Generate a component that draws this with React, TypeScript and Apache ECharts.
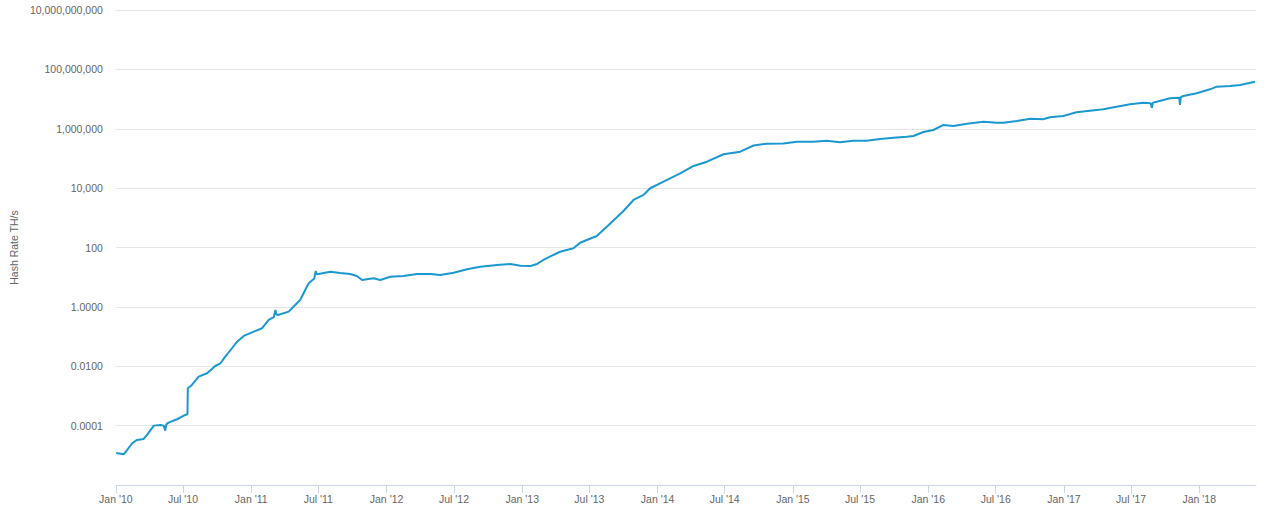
import React, { useEffect, useRef } from "react";
import * as echarts from "echarts";

const dates: string[] = [
  "2010-01-02", "2010-01-22", "2010-01-31", "2010-02-14", "2010-02-27", "2010-03-17", "2010-03-26",
  "2010-04-13", "2010-05-01", "2010-05-10", "2010-05-14", "2010-05-17", "2010-05-23", "2010-06-15",
  "2010-07-07", "2010-07-13", "2010-07-14", "2010-07-25", "2010-08-12", "2010-09-04", "2010-09-26",
  "2010-10-10", "2010-10-23", "2010-11-10", "2010-11-24", "2010-12-12", "2011-01-08", "2011-01-30",
  "2011-02-17", "2011-03-03", "2011-03-07", "2011-03-10", "2011-03-14", "2011-04-12", "2011-04-21",
  "2011-05-13", "2011-05-31", "2011-06-05", "2011-06-20", "2011-06-24", "2011-06-27", "2011-07-02",
  "2011-08-02", "2011-08-29", "2011-09-25", "2011-10-13", "2011-10-27", "2011-11-27", "2011-12-15",
  "2012-01-11", "2012-02-16", "2012-03-23", "2012-04-28", "2012-05-25", "2012-06-30", "2012-08-05",
  "2012-09-10", "2012-10-25", "2012-11-30", "2012-12-27", "2013-01-23", "2013-02-10", "2013-02-27",
  "2013-03-26", "2013-04-13", "2013-05-19", "2013-06-06", "2013-06-24", "2013-07-21", "2013-08-17",
  "2013-09-13", "2013-10-01", "2013-10-28", "2013-11-24", "2013-12-12", "2014-01-17", "2014-03-03",
  "2014-04-08", "2014-05-14", "2014-06-28", "2014-08-12", "2014-09-17", "2014-10-23", "2014-12-06",
  "2015-01-12", "2015-02-25", "2015-04-02", "2015-05-08", "2015-06-13", "2015-07-19", "2015-08-24",
  "2015-09-29", "2015-11-04", "2015-11-22", "2015-12-19", "2016-01-15", "2016-02-11", "2016-03-09",
  "2016-04-14", "2016-05-29", "2016-07-04", "2016-07-22", "2016-08-27", "2016-10-02", "2016-11-06",
  "2016-11-24", "2016-12-30", "2017-02-04", "2017-03-12", "2017-04-17", "2017-05-23", "2017-06-28",
  "2017-08-03", "2017-08-23", "2017-08-26", "2017-08-29", "2017-09-08", "2017-10-14", "2017-11-08",
  "2017-11-10", "2017-11-12", "2017-11-19", "2017-12-25", "2018-01-30", "2018-02-17", "2018-03-25",
  "2018-04-21", "2018-05-31",
];

const hashRate: number[] = [
  1.2e-5, 1.08e-5, 1.5e-5, 2.55e-5, 3.3e-5, 3.55e-5, 4.85e-5,
  1.0e-4, 1.05e-4, 1.0e-4, 6.8e-5, 1.1e-4, 1.26e-4, 1.64e-4,
  2.29e-4, 2.4e-4, 1.81e-3, 2.34e-3, 4.46e-3, 5.8e-3, 1.02e-2,
  1.26e-2, 2.1e-2, 4.04e-2, 6.7e-2, 0.105, 0.146, 0.19,
  0.362, 0.45, 0.787, 0.55, 0.533, 0.69, 0.9,
  1.71, 4.79, 6.2, 9.0, 16.2, 12.5, 12.8,
  15.3, 13.9, 12.8, 11.0, 8.05, 9.2, 8.05,
  10.4, 11.0, 12.8, 12.8, 11.9, 14.2, 18.5,
  22.6, 25.8, 27.9, 24.4, 23.9, 27.9, 38,
  56, 72, 94, 145, 179, 244, 502,
  1040, 1700, 3990, 5880, 9890, 16500, 31600,
  55700, 77800, 138000, 169000, 273000, 314000, 316000,
  366000, 366000, 396000, 350000, 396000, 396000, 452000,
  500000, 541000, 570000, 778000, 908000, 1340000, 1240000,
  1480000, 1730000, 1600000, 1600000, 1820000, 2180000, 2080000,
  2430000, 2690000, 3580000, 4060000, 4520000, 5530000, 6660000,
  7550000, 7200000, 5120000, 7600000, 8150000, 10600000, 11000000,
  6310000, 11500000, 12700000, 15600000, 21300000, 26100000, 27500000,
  29800000, 38500000,
];

const tickDates: string[] = [
  "2010-01-01", "2010-07-01", "2011-01-01", "2011-07-01", "2012-01-01", "2012-07-01",
  "2013-01-01", "2013-07-01", "2014-01-01", "2014-07-01", "2015-01-01", "2015-07-01",
  "2016-01-01", "2016-07-01", "2017-01-01", "2017-07-01", "2018-01-01",
];

const FONT = "'Liberation Sans', Arial, sans-serif";

export default function App() {
  const ref = useRef<HTMLDivElement>(null);
  useEffect(() => {
    if (!ref.current) return;
    const chart = echarts.init(ref.current, null, { renderer: "svg" });
    const data = dates.map((d, i) => [Date.parse(d), hashRate[i]]);
    const ticks = tickDates.map((d) => Date.parse(d));
    chart.setOption({
      animation: false,
      grid: { left: 115, right: 24, top: 10, bottom: 39, containLabel: false },
      xAxis: {
        type: "value",
        min: Date.parse("2010-01-01"),
        max: Date.parse("2018-06-03"),
        axisLine: { show: true, lineStyle: { color: "#ccd6eb", width: 1 } },
        axisTick: { show: true, length: 8, lineStyle: { color: "#ccd6eb" }, customValues: ticks },
        splitLine: { show: false },
        axisLabel: {
          customValues: ticks,
          color: "#666666",
          fontSize: 10.5,
          fontFamily: FONT,
          margin: 8,
          formatter: (v: number) => {
            const d = new Date(v);
            return (d.getUTCMonth() === 0 ? "Jan" : "Jul") + " '" + String(d.getUTCFullYear()).slice(2);
          },
        },
      },
      yAxis: {
        type: "log",
        logBase: 100,
        min: 1e-6,
        max: 1e10,
        interval: 1,
        name: "Hash Rate TH/s",
        nameLocation: "middle",
        nameGap: 88,
        nameTextStyle: { color: "#666666", fontSize: 10.5, fontFamily: FONT },
        axisLine: { show: false },
        axisTick: { show: false },
        splitLine: { show: true, lineStyle: { color: "#e6e6e6", width: 1 } },
        axisLabel: {
          color: "#666666",
          fontSize: 10.5,
          fontFamily: FONT,
          margin: 13,
          showMinLabel: false,
          formatter: (v: number) =>
            v < 1.5 ? v.toFixed(4) : Math.round(v).toLocaleString("en-US"),
        },
      },
      series: [
        {
          type: "line",
          data,
          showSymbol: false,
          symbol: "none",
          lineStyle: { color: "#1b98d0", width: 2 },
          itemStyle: { color: "#1b98d0" },
        },
      ],
    });
    return () => chart.dispose();
  }, []);
  return (
    <div
      ref={ref}
      style={{ position: "absolute", left: 0, top: 0, width: 1280, height: 524 }}
    />
  );
}
